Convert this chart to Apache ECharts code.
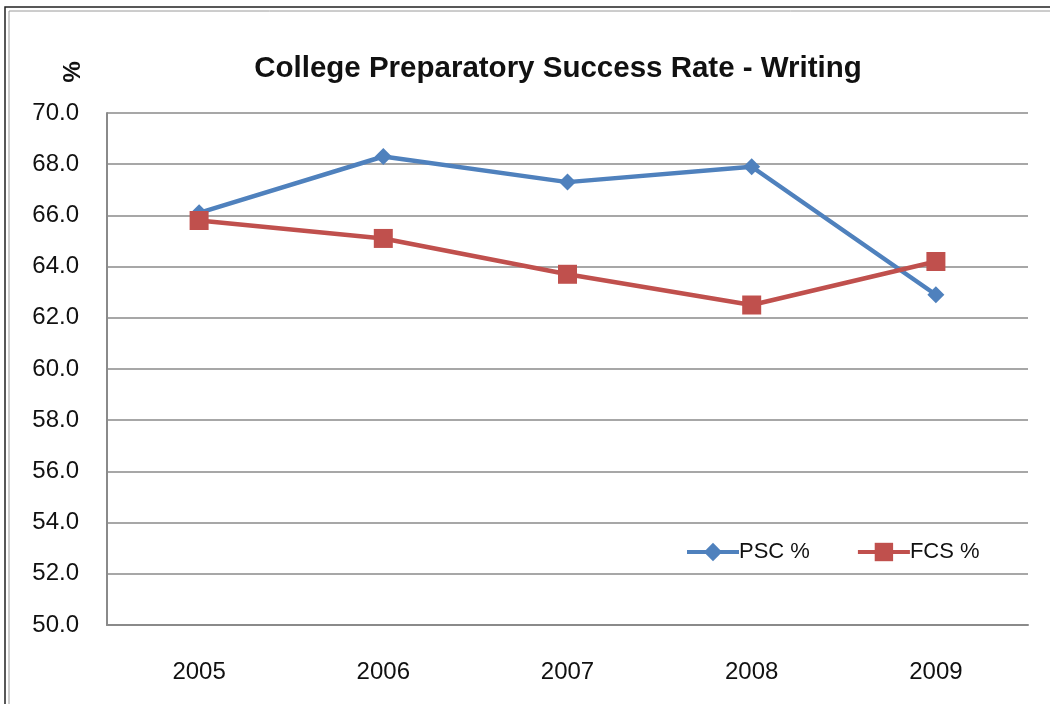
<!DOCTYPE html>
<html>
<head>
<meta charset="utf-8">
<script src="https://cdn.jsdelivr.net/npm/echarts@6/dist/echarts.min.js"></script>
<style>
  html, body { margin: 0; padding: 0; background: #fff; }
  #chart { width: 1050px; height: 704px; }
</style>
</head>
<body>
<div id="chart"></div>
<script>
// Writing success rates by year
const years = ['2005', '2006', '2007', '2008', '2009'];
const pscValues = [66.1, 68.3, 67.3, 67.9, 62.9];
const fcsValues = [65.8, 65.1, 63.7, 62.5, 64.2];
const seriesNames = ['PSC %', 'FCS %'];
const titleText = 'College Preparatory Success Rate - Writing';
const yUnit = '%';

const font = '"Liberation Sans", Arial, sans-serif';
const chart = echarts.init(document.getElementById('chart'));

chart.setOption({
  backgroundColor: '#ffffff',
  animation: false,
  title: {
    text: titleText,
    left: 553,
    textAlign: 'center',
    top: 49,
    textStyle: { fontFamily: font, fontSize: 29.5, fontWeight: 'bold', color: '#111' }
  },
  graphic: [
    {
      type: 'rect',
      shape: { x: 5, y: 7, width: 1060, height: 720 },
      style: { fill: 'none', stroke: '#222', lineWidth: 1.5 },
      silent: true
    },
    {
      type: 'rect',
      shape: { x: 9, y: 11, width: 1060, height: 720 },
      style: { fill: 'none', stroke: '#9a9a9a', lineWidth: 1 },
      silent: true
    },
    {
      type: 'text',
      x: 70,
      y: 72,
      rotation: -Math.PI / 2,
      style: {
        text: yUnit,
        font: 'bold 24px ' + font,
        fill: '#111',
        align: 'center',
        verticalAlign: 'middle'
      }
    }
  ],
  legend: {
    data: seriesNames,
    left: 680,
    top: 536,
    itemWidth: 52,
    itemHeight: 23,
    itemGap: 46,
    lineStyle: { width: 4 },
    textStyle: { fontFamily: font, fontSize: 22, color: '#111', padding: [0, 0, 0, -5] }
  },
  grid: { left: 107, right: 22, top: 113, bottom: 79 },
  xAxis: {
    type: 'category',
    data: years,
    boundaryGap: true,
    axisLine: { lineStyle: { color: '#8a8a8a', width: 2 } },
    axisTick: { show: false },
    axisLabel: { fontFamily: font, fontSize: 24, color: '#111', margin: 35 }
  },
  yAxis: {
    type: 'value',
    min: 50,
    max: 70,
    interval: 2,
    axisLine: { show: true, lineStyle: { color: '#8a8a8a', width: 2 } },
    axisTick: { show: false },
    splitLine: { lineStyle: { color: '#8a8a8a', width: 1.5 } },
    axisLabel: {
      fontFamily: font, fontSize: 24, color: '#111', margin: 28,
      formatter: v => v.toFixed(1)
    }
  },
  series: [
    {
      name: seriesNames[0],
      type: 'line',
      data: pscValues,
      symbol: 'diamond',
      symbolSize: 17,
      lineStyle: { color: '#4f81bd', width: 4.5 },
      itemStyle: { color: '#4f81bd' }
    },
    {
      name: seriesNames[1],
      type: 'line',
      data: fcsValues,
      symbol: 'rect',
      symbolSize: 19,
      lineStyle: { color: '#c0504d', width: 4.5 },
      itemStyle: { color: '#c0504d' }
    }
  ]
});
</script>
</body>
</html>
